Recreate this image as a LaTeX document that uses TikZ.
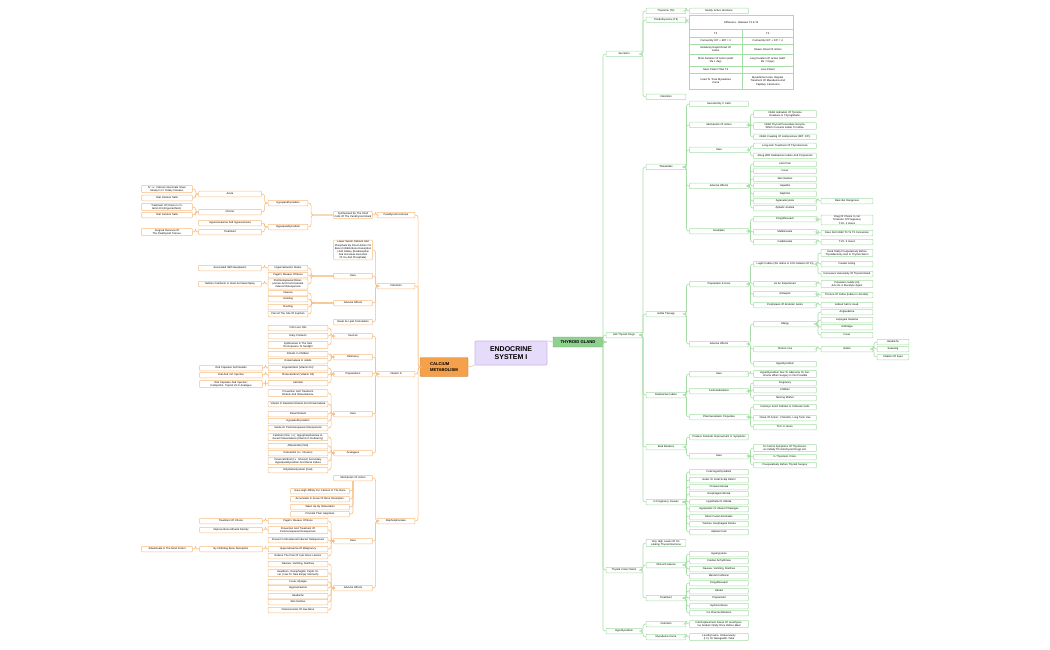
\documentclass[tikz,border=0pt]{standalone}
\usepackage{fontspec}
\setmainfont{Liberation Sans}
\definecolor{gl}{HTML}{A6DDA6}
\definecolor{ol}{HTML}{F6BC80}
\definecolor{gf}{HTML}{8FD18F}
\definecolor{of}{HTML}{F5A04A}
\definecolor{pf}{HTML}{E6DCFA}
\definecolor{pd}{HTML}{C8B4EE}
\tikzset{
 gb/.style={draw=gl,fill=white,line width=0.5pt,rounded corners=0.6pt,inner sep=0.8pt,minimum height=5.5pt,align=center,font=\fontsize{2.6}{3.1}\selectfont},
 ob/.style={gb,draw=ol},
 gc/.style={draw=gl,line width=0.6pt,rounded corners=2.5pt},
 oc/.style={draw=ol,line width=0.6pt,rounded corners=2.5pt},
 cell/.style={draw=gl,line width=0.5pt,inner sep=0.8pt,align=center,font=\fontsize{2.6}{3.1}\selectfont,anchor=north west},
}
\newcommand\gn[5]{\node[gb,text width=#4pt] (#1) at (#2,#3) {#5};}
\newcommand\on[5]{\node[ob,text width=#4pt] (#1) at (#2,#3) {#5};}
\newcommand\gE[2]{\draw[gc] (#1.east) -- ([xshift=-3pt]#2.west |- #1.east) -- ([xshift=-3pt]#2.west) -- (#2.west);}
\newcommand\oE[2]{\draw[oc] (#1.west) -- ([xshift=3pt]#2.east |- #1.west) -- ([xshift=3pt]#2.east) -- (#2.east);}
\begin{document}
\begin{tikzpicture}[x=1pt,y=-1pt]
\useasboundingbox (0,0) rectangle (1050,650);
% centre
\node[draw=pd,fill=pf,line width=0.6pt,rounded corners=1pt,minimum width=72pt,minimum height=24pt,align=center,font=\fontsize{7}{8.5}\selectfont\bfseries] (root) at (511,353) {ENDOCRINE\\SYSTEM I};
\node[draw=gf!80!black,fill=gf,rounded corners=1pt,minimum width=50pt,minimum height=10pt,font=\fontsize{4.2}{5}\selectfont\bfseries] (tg) at (578,342) {THYROID GLAND};
\node[draw=of!80!black,fill=of,rounded corners=1pt,minimum width=48pt,minimum height=19pt,align=left,font=\fontsize{4.2}{5.5}\selectfont\bfseries] (cm) at (444,367) {CALCIUM\\METABOLISM};
\draw[gc] (root.north east) to[out=0,in=180] (tg.west);
\draw[oc] (root.south west) to[out=180,in=0] (cm.east);
% ===== RIGHT =====
\gn{sec}{624}{54}{34}{Secretion}
\gn{atd}{624}{335}{34}{Anti Thyroid Drugs}
\gn{tcs}{624}{570}{34}{Thyroid Crisis/ Storm}
\gn{hypo}{624}{631}{34}{Hypothyroidism}
\foreach \c in {sec,atd,tcs,hypo}{\gE{tg}{\c}}
\gn{t4}{666}{11}{38}{Thyroxine (T4)}
\gn{t3}{666}{20}{38}{Triiodothyronine (T3)}
\gn{calc}{666}{97}{38}{Calcitonin}
\gE{sec}{t4}\gE{sec}{t3}\gE{sec}{calc}
\gn{mah}{719}{11}{57}{Mostly Active Hormone}
\gE{t4}{mah}
% table
\node[cell,minimum width=104pt,minimum height=14pt] (th) at (689,15) {Difference - Between T3 \& T4};
\foreach \y/\h/\a/\b in {29/8/T3/T4,37/7/Formed By DIT + MIT = 3/Formed By DIT + DIT = 4,44/10/{Relatively Rapid Onset Of\\Action}/Slower Onset Of Action,54/12/{Short Duration Of Action (Half-\\life 1 day)}/{Long Duration Of Action (Half-\\life 7 Days)},66/7/More Potent Than T4/Less Potent,73/16/{Used To Treat Myxedema\\Coma}/{Myxedema Coma, Regular\\Treatment Of Myxedema And\\Papillary Carcinoma}}{
 \node[cell,minimum width=53pt,minimum height=\h pt,text width=50pt] at (689,\y) {\a};
 \node[cell,minimum width=51pt,minimum height=\h pt,text width=48pt] at (742,\y) {\b};}
\draw[gc] (t3.east) -- ([xshift=-3pt]th.west |- t3.east) -- ([xshift=-3pt]th.west) -- (th.west);
% Thioamides
\gn{thio}{666}{167}{38}{Thioamides}
\gn{iod}{666}{314}{38}{Iodide Therapy}
\gn{rai}{666}{395}{38}{Radioactive Iodine}
\gn{bb}{666}{447}{38}{Beta Blockers}
\gn{ipc}{666}{502}{38}{In Pregnancy Causes}
\foreach \c in {thio,iod,rai,bb,ipc}{\gE{atd}{\c}}
\gn{scc}{719}{104}{57}{Secreted By C Cells}
\gn{moa}{719}{125}{57}{Mechanism Of Action}
\gn{tu}{719}{150}{57}{Uses}
\gn{tae}{719}{186}{57}{Adverse Effects}
\gn{tex}{719}{231}{57}{Examples}
\foreach \c in {scc,moa,tu,tae,tex}{\gE{thio}{\c}}
\gn{m1}{785}{114}{61}{Inhibit Iodination Of Tyrosine Residues In Thyroglobulin.}
\gn{m2}{785}{126}{61}{Inhibit Thyroid Peroxidase Enzyme, Which Converts Iodide To Iodine.}
\gn{m3}{785}{137}{61}{Inhibit Coupling Of Iodotyrosines (MIT, DIT).}
\gE{moa}{m1}\gE{moa}{m2}\gE{moa}{m3}
\gn{u1}{785}{146}{61}{Long-term Treatment Of Thyrotoxicosis}
\gn{u2}{785}{156}{61}{Along With Radioactive Iodine And Propranolol}
\gE{tu}{u1}\gE{tu}{u2}
\foreach \n/\y/\t in {a1/164/Joint Pain,a2/171/Fever,a3/179/Skin Rashes,a4/186/Hepatitis,a5/194/Nephritis,a6/201/Agranulocytosis,a7/208/Aplastic Anemia}{\gn{\n}{785}{\y}{61}{\t}\gE{tae}{\n}}
\gn{rbd}{847}{201}{50}{Rare But Dangerous}\gE{a6}{rbd}
\gn{e1}{785}{219}{61}{Propylthiouracil}
\gn{e2}{785}{232}{61}{Methimazole}
\gn{e3}{785}{242}{61}{Carbimazole}
\gE{tex}{e1}\gE{tex}{e2}\gE{tex}{e3}
\gn{e1a}{847}{220}{50}{Drug Of Choice In 1st Trimester Of Pregnancy\\T1/2- 2 Hours}
\gn{e2a}{847}{233}{50}{Does Not Inhibit T4 To T3 Conversion}
\gn{e3a}{847}{242}{50}{T1/2- 6 Hours}
\gE{e1}{e1a}\gE{e2}{e2a}\gE{e3}{e3a}
% Iodide
\gn{pu}{719}{284}{57}{Preparation \& Uses}
\gn{iae}{719}{344}{57}{Adverse Effects}
\gE{iod}{pu}\gE{iod}{iae}
\gn{p1}{785}{264}{61}{Lugol's Iodine (5\% Iodine In 10\% Solution Of KI)}
\gn{p2}{785}{284}{61}{As An Expectorant}
\gn{p3}{785}{294}{61}{Antiseptic}
\gn{p4}{785}{305}{61}{Prophylaxis Of Endemic Goitre}
\foreach \c in {p1,p2,p3,p4}{\gE{pu}{\c}}
\gn{p1a}{847}{253}{50}{Used Orally Preoperatively Before Thyroidectomy And In Thyroid Storm}
\gn{p1b}{847}{264}{50}{Fastest Acting}
\gn{p1c}{847}{274}{50}{Decreases Vascularity Of Thyroid Gland}
\gE{p1}{p1a}\gE{p1}{p1b}\gE{p1}{p1c}
\gn{p2a}{847}{284}{50}{Potassium Iodide (KI) Acts As A Mucolytic Agent}
\gn{p3a}{847}{295}{50}{Tincture Of Iodine (Iodine In Alcohol).}
\gn{p4a}{847}{305}{50}{Iodized Salt Is Used.}
\gE{p2}{p2a}\gE{p3}{p3a}\gE{p4}{p4a}
\gn{al}{785}{324}{61}{Allergy}
\gn{cu}{785}{349}{61}{Chronic Use}
\gn{hy}{785}{364}{61}{Hypothyroidism}
\gE{iae}{al}\gE{iae}{cu}\gE{iae}{hy}
\foreach \n/\y/\t in {l1/312/Angioedema,l2/320/Laryngeal Oedema,l3/327/Arthralgia,l4/335/Fever}{\gn{\n}{847}{\y}{50}{\t}\gE{al}{\n}}
\gn{ism}{847}{349}{50}{Iodism}\gE{cu}{ism}
\foreach \n/\y/\t in {i1/342/Headache,i2/349/Sneezing,i3/357/Irritation Of Eyes}{\gn{\n}{893}{\y}{30}{\t}\gE{ism}{\n}}
% Radioactive iodine
\gn{ru}{719}{374}{57}{Uses}
\gn{rc}{719}{391}{57}{Contraindications}
\gn{rp}{719}{417}{57}{Pharmacokinetic Properties}
\gE{rai}{ru}\gE{rai}{rc}\gE{rai}{rp}
\gn{ru1}{785}{374}{61}{Hyperthyroidism Due To Adenoma Or Carcinoma When Surgery Is Not Possible}\gE{ru}{ru1}
\foreach \n/\y/\t in {c1/383/Pregnancy,c2/390/Children,c3/398/Nursing Mother}{\gn{\n}{785}{\y}{61}{\t}\gE{rc}{\n}}
\gn{k1}{785}{407}{61}{Destroys Acini/ Follicles In Follicular Cells}
\gn{k2}{785}{418}{61}{Onset Of Action: 3 Months, Long Term Use}
\gn{k3}{785}{427}{61}{T1/2- 8 Hours.}
\gE{rp}{k1}\gE{rp}{k2}\gE{rp}{k3}
% Beta blockers
\gn{b1}{719}{437}{57}{Produce Dramatic Improvement In Symptoms}
\gn{bu}{719}{456}{57}{Uses}
\gE{bb}{b1}\gE{bb}{bu}
\gn{bu1}{785}{448}{61}{To Control Symptoms Of Thyrotoxicosis Initially Till Anti-thyroid Drugs Act.}
\gn{bu2}{785}{457}{61}{In Thyrotoxic Crisis.}
\gn{bu3}{785}{465}{61}{Preoperatively Before Thyroid Surgery}
\gE{bu}{bu1}\gE{bu}{bu2}\gE{bu}{bu3}
% pregnancy
\foreach \n/\y/\t in {q1/472/Fetal Hypothyroidism,q2/480/Goiter Or Fetal Scalp Defect,q3/487/Choanal Atresia,q4/494/Esophageal Atresia,q5/502/Hypothelia Or Athelia,q6/509/Hypoplastic Or Absent Phalanges,q7/517/Minor Facial Anomalies,q8/524/Tracheo- Esophageal Fistula,q9/532/Aplasia Cutis}{\gn{\n}{719}{\y}{57}{\t}\gE{ipc}{\n}}
% crisis
\gn{vh}{666}{543}{38}{Very High Levels Of Circulating Thyroid Hormone}
\gn{cf}{666}{565}{38}{Clinical Features}
\gn{tr}{666}{598}{38}{Treatment}
\gE{tcs}{vh}\gE{tcs}{cf}\gE{tcs}{tr}
\foreach \n/\y/\t in {f1/554/Hyperpyrexia,f2/561/Cardiac Arrhythmias,f3/569/{Nausea, Vomiting, Diarrhea},f4/576/Mental Confusion}{\gn{\n}{719}{\y}{57}{\t}\gE{cf}{\n}}
\foreach \n/\y/\t in {t1/583/Propylthiouracil,t2/591/Iodides,t3x/598/Propranolol,t4x/606/Hydrocortisone,t5/613/Ca Channel Blockers}{\gn{\n}{719}{\y}{57}{\t}\gE{tr}{\n}}
% hypothyroidism
\gn{cre}{666}{624}{38}{Cretinism}
\gn{myx}{666}{637}{38}{Myxedema Coma}
\gE{hypo}{cre}\gE{hypo}{myx}
\gn{cre1}{719}{624}{57}{Full Replacement Doses Of Levothyroxine Sodium Orally Once Before Meal}
\gn{myx1}{719}{637}{57}{Levothyroxine, Intravenously (I.V.) Or Nasogastric Tube}
\gE{cre}{cre1}\gE{myx}{myx1}
% ===== LEFT =====
\on{pth}{396}{215}{36}{Parathyroid Hormone}
\on{lcal}{396}{286}{36}{Calcitonin}
\on{vd}{396}{374}{36}{Vitamin D}
\on{bis}{396}{521}{36}{Bisphosphonates}
\foreach \c in {pth,lcal,vd,bis}{\oE{cm}{\c}}
\on{syn}{353}{215}{37}{Synthesized By The Chief Cells Of The Parathyroid Gland}\oE{pth}{syn}
\on{hpo}{288}{203}{38}{Hypoparathyroidism}
\on{hpe}{288}{227}{38}{Hyperparathyroidism}
\oE{syn}{hpo}\oE{syn}{hpe}
\on{ac}{230}{194}{61}{Acute}
\on{ch}{230}{212}{61}{Chronic}
\oE{hpo}{ac}\oE{hpo}{ch}
\on{ac1}{167}{189}{49}{IV: i.v. Calcium Gluconate Given Slowly In IV Tetany Disease.}
\on{ac2}{167}{198}{49}{Oral Calcium Salts}
\oE{ac}{ac1}\oE{ac}{ac2}
\on{ch1}{167}{207}{49}{Treatment Of Choice Is Vitamin D3 (Ergocalciferol).}
\on{ch2}{167}{215}{49}{Oral Calcium Salts}
\oE{ch}{ch1}\oE{ch}{ch2}
\on{hh}{230}{223}{61}{Hypercalcaemia And Hypercalciuria}
\on{htr}{230}{232}{61}{Treatment}
\oE{hpe}{hh}\oE{hpe}{htr}
\on{htr1}{167}{232}{49}{Surgical Removal Of The Parathyroid Tumour.}\oE{htr}{htr1}
% calcitonin
\on{lo}{353}{250}{37}{Lower Serum Calcium And Phosphate By Direct Action On Bone (Inhibits Bone Resorption ) And Kidney (Reabsorption And Increases Excretion Of Ca And Phosphate)}
\on{cu1}{353}{276}{37}{Uses}
\on{cae}{353}{303}{37}{Adverse Effects}
\on{nas}{353}{322}{37}{Nasal As Lipid Formulation}
\foreach \c in {lo,cu1,cae,nas}{\oE{lcal}{\c}}
\on{cs1}{288}{268}{38}{Hypercalcaemic Status}
\on{cs2}{288}{275}{38}{Paget's Disease Of Bone}
\on{cs3}{288}{284}{38}{Postmenopausal Osteoporosis And Corticosteroid Induced Osteoporosis}
\oE{cu1}{cs1}\oE{cu1}{cs2}\oE{cu1}{cs3}
\on{cs1a}{230}{268}{61}{Associated With Neoplasms}\oE{cs1}{cs1a}
\on{cs3a}{230}{284}{61}{Salmon Calcitonin Is Used As Nasal Spray}\oE{cs3}{cs3a}
\foreach \n/\y/\t in {ce1/293/Nausea,ce2/299/Vomiting,ce3/307/Flushing,ce4/314/Pain At The Site Of Injection}{\on{\n}{288}{\y}{38}{\t}\oE{cae}{\n}}
% vitamin D
\on{vs}{353}{336}{37}{Sources}
\on{vdf}{353}{357}{37}{Deficiency}
\on{vp}{353}{374}{37}{Preparations}
\on{vu}{353}{414}{37}{Uses}
\on{va}{353}{453}{37}{Analogues}
\foreach \c in {vs,vdf,vp,vu,va}{\oE{vd}{\c}}
\foreach \n/\y/\t in {s1/328/Fish Liver Oils,s2/336/Dairy Products,s3/345/Synthesized In The Skin On Exposure To Sunlight}{\on{\n}{298}{\y}{58}{\t}\oE{vs}{\n}}
\foreach \n/\y/\t in {d1/354/Rickets In Children,d2/361/Osteomalacia In Adults}{\on{\n}{298}{\y}{58}{\t}\oE{vdf}{\n}}
\foreach \n/\y/\t in {pp1/368/Ergocalciferol (Vitamin D2),pp2/375/Cholecalciferol (Vitamin D3),pp3/383/Calcitriol}{\on{\n}{298}{\y}{58}{\t}\oE{vp}{\n}}
\on{pp1a}{231}{368}{61}{Oral Capsules Soft Gelatin}\oE{pp1}{pp1a}
\on{pp2a}{231}{375}{61}{Oral And I.M. Injection}\oE{pp2}{pp2a}
\on{pp3a}{231}{384}{61}{Oral Capsules And Injection; Calcipotriol- Topical Vit-D Analogue}\oE{pp3}{pp3a}
\foreach \n/\y/\t in {vu1/393/Prevention And Treatment Rickets And Osteomalacia.,vu2/404/Vitamin D Resistant Rickets And Osteomalacia,vu3/414/Renal Rickets,vu4/421/Hypoparathyroidism,vu5/428/Senile Or Postmenopausal Osteoporosis}{\on{\n}{298}{\y}{58}{\t}\oE{vu}{\n}}
\foreach \n/\y/\t in {va1/437/{Calcitriol (Oral, I.v.); Hypophosphatemia Induced Osteomalacia (Vitamin D Deficiency)},va2/446/Alfacalcidol (Oral),va3/453/Paricalcitol (I.v. Infusion),va4/461/{Doxercalciferol (I.v. Infusion) Secondary Hyperparathyroidism And Renal Failure},va5/470/Dihydrotachysterol (Oral)}{\on{\n}{298}{\y}{58}{\t}\oE{va}{\n}}
% bisphosphonates
\on{bm}{353}{478}{37}{Mechanism Of Action}
\on{bu4}{353}{541}{37}{Uses}
\on{bae}{353}{588}{37}{Adverse Effects}
\oE{bis}{bm}\oE{bis}{bu4}\oE{bis}{bae}
\foreach \n/\y/\t in {bm1/491/Have High Affinity For Calcium In The Bone,bm2/499/Accumulate In Areas Of Bone Resorption.,bm3/507/Taken Up By Osteoclasts,bm4/514/Promote Their Apoptosis}{\on{\n}{320}{\y}{57}{\t}\draw[oc] (bm.south) |- (\n.east);}
\foreach \n/\y/\t in {bu5/521/Paget's Disease Of Bone,bu6/530/Prevention And Treatment Of Postmenopausal Osteoporosis,bu7/540/Prevent Corticosteroid Induced Osteoporosis,bu8/549/Hypercalcaemia Of Malignancy,bu9/556/Relieve The Pain Of Lytic Bone Lesions}{\on{\n}{298}{\y}{58}{\t}\oE{bu4}{\n}}
\on{bu5a}{231}{521}{61}{Treatment Of Choice}\oE{bu5}{bu5a}
\on{bu6a}{231}{530}{61}{Improve Bone Mineral Density}\oE{bu6}{bu6a}
\on{bu8a}{231}{549}{61}{By Inhibiting Bone Resorption}\oE{bu8}{bu8a}
\on{bu8b}{167}{549}{49}{Zoledronate Is The Most Potent}\oE{bu8a}{bu8b}
\foreach \n/\y/\t in {be1/564/{Nausea, Vomiting, Diarrhea},be2/573/{Heartburn, Oesophagitis, Peptic Ulcer ( Has To Take Empty Stomach)},be3/582/{Fever, Myalgia},be4/588/Hypocalcaemia,be5/596/Headache,be6/602/Skin Rashes,be7/610/Osteonecrosis Of Jaw Bone}{\on{\n}{298}{\y}{58}{\t}\oE{bae}{\n}}
\end{tikzpicture}
\end{document}
